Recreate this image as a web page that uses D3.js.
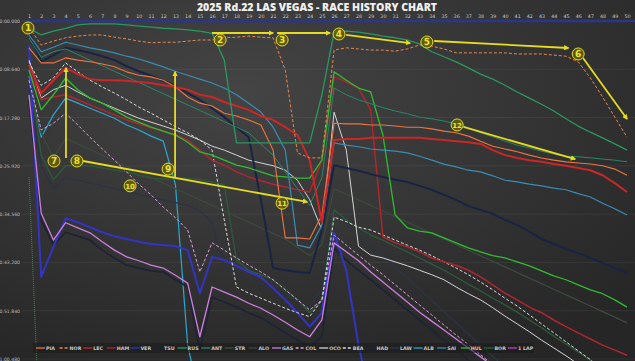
<!DOCTYPE html>
<html><head><meta charset="utf-8">
<script src="https://cdn.jsdelivr.net/npm/d3@7"></script>
<style>html,body{margin:0;padding:0;background:#2e2e2e;}svg{display:block;}</style>
</head><body>
<svg id="c" width="635" height="361"></svg>
<script>
const title = "2025 Rd.22 LAS VEGAS - RACE HISTORY CHART";
const laps = d3.range(1, 51);
const yTicks = [0, 8.64, 17.28, 25.92, 34.56, 43.2, 51.84, 60.48];
const yTickLabels = ["0:00.000","0:08.640","0:17.280","0:25.920","0:34.560","0:43.200","0:51.840","1:00.480"];
const drivers = ["PIA","NOR","LEC","HAM","VER","TSU","RUS","ANT","STR","ALO","GAS","COL","OCO","BEA","HAD","LAW","ALB","SAI","HUL","BOR","1 LAP"];

// gap to reference (seconds) per lap
const PIA = [4.8,7.5,7.5,6.6,7.0,7.3,7.7,8.2,9.1,9.7,10.0,10.6,11.8,13.6,14.7,15.2,16.5,17.0,17.7,18.6,23.1,38.8,38.8,39.0,34.7,18.3,18.4,18.4,18.6,18.6,18.8,19.0,19.0,19.3,19.7,20.0,20.6,21.5,22.4,22.9,23.4,24.0,24.5,24.9,25.2,25.4,25.6,25.9,26.5,27.6];
const NOR = [1.1,4.3,3.6,3.0,2.7,2.5,2.5,2.9,3.2,3.6,3.9,3.8,3.8,3.6,3.4,3.4,3.0,2.9,2.7,2.9,3.0,8.8,23.6,24.5,24.5,5.2,4.8,5.0,5.2,5.2,5.4,5.0,4.3,4.5,5.0,5.7,5.7,5.7,5.7,5.7,5.9,5.9,5.9,6.1,6.3,7.3,10.2,13.6,17.2,20.8];
const LEC = [7.9,12.9,10.6,8.4,9.5,10.4,10.6,10.6,10.7,10.9,11.1,11.5,11.8,12.3,13.2,13.6,14.5,15.2,15.9,17.0,17.7,19.0,20.4,24.9,36.0,21.3,21.1,21.1,20.9,20.9,20.9,20.9,20.9,21.1,21.3,21.5,21.7,22.0,23.1,24.0,24.5,24.9,25.2,25.6,25.9,26.3,26.7,27.6,29.0,30.6];
const HAM = [8.8,14.1,13.6,13.2,14.1,15.0,15.9,16.8,17.7,18.4,19.1,19.7,20.4,21.3,23.1,24.9,25.8,27.0,27.9,28.6,29.2,29.7,30.2,30.6,24.9,10.0,10.9,12.0,15.9,38.6,39.7,40.4,41.3,42.4,43.1,43.7,44.6,45.8,47.2,48.7,49.9,51.2,52.2,53.5,54.7,55.8,56.9,58.0,58.9,59.8];
const VER = [4.3,45.8,40.4,35.3,36.0,36.9,37.8,38.5,39.0,39.5,39.9,40.1,40.3,41.0,48.7,42.2,42.8,43.8,44.9,45.8,47.8,49.9,52.2,54.7,52.2,37.9,44.6,58.0,67.8,null,null,null,null,null,null,null,null,null,null,null,null,null,null,null,null,null,null,null,null,null];
const TSU = [2.0,7.3,6.1,4.8,5.2,5.7,6.3,7.0,8.1,9.0,9.8,10.7,11.6,12.9,14.1,15.6,17.2,19.0,20.8,32.0,44.2,44.6,44.9,45.1,37.4,25.8,26.3,26.8,27.4,27.9,28.4,28.8,29.5,30.2,31.1,32.0,33.1,33.8,34.5,35.6,36.5,37.7,39.0,39.9,40.8,41.5,42.4,43.3,44.2,45.1];
const RUS = [1.3,2.5,1.8,1.3,0.7,0.5,0.5,0.5,0.7,0.9,1.1,1.3,1.4,1.6,1.8,2.2,7.0,21.8,21.8,21.8,21.8,21.8,21.8,21.8,13.2,2.0,1.8,2.0,2.3,2.7,3.0,3.4,4.1,5.5,6.4,7.3,8.4,9.5,10.4,11.5,12.7,13.8,14.9,16.1,17.5,18.8,19.9,20.9,22.0,23.1];
const ANT = [3.0,6.5,5.5,5.0,6.0,7.0,8.0,9.0,10.0,11.0,12.0,13.0,14.0,15.0,16.0,17.0,18.0,19.0,20.0,22.0,24.0,27.0,30.0,33.0,28.0,12.0,13.2,14.1,14.8,15.5,16.1,16.6,17.2,17.5,17.9,18.4,19.1,20.0,20.7,21.5,22.2,22.7,23.3,23.8,24.2,24.3,24.5,24.7,24.9,25.2];
const STR = [8.8,24.0,28.4,25.9,25.8,25.9,26.3,26.7,27.0,27.6,28.1,28.3,28.3,28.1,28.4,28.8,29.3,42.8,44.6,45.4,46.3,48.1,49.9,52.2,49.9,33.8,35.6,37.0,38.3,39.2,40.3,41.3,42.4,43.5,44.6,45.8,47.1,48.3,49.6,50.8,52.1,53.5,54.9,56.4,57.8,59.2,60.7,62.4,null,null];
const ALO = [11.0,20.0,24.5,21.0,22.0,23.0,24.0,25.0,26.0,27.0,28.0,29.0,30.0,31.0,32.0,33.0,34.0,35.0,36.0,37.0,38.0,39.0,40.5,42.0,40.0,30.0,31.0,32.0,33.0,34.0,35.0,36.0,37.0,38.0,39.0,40.0,41.0,42.0,43.0,44.0,45.0,46.0,47.0,48.0,49.0,50.0,51.0,52.0,53.0,54.0];
const GAS = [13.2,34.4,39.2,36.1,37.0,37.9,39.5,41.0,42.2,42.9,43.7,44.2,45.5,46.9,56.5,47.6,48.5,49.4,50.5,51.4,52.6,53.9,55.3,56.5,53.5,39.7,41.3,42.9,44.9,46.7,48.5,50.3,52.1,53.7,55.3,56.9,58.5,60.1,61.7,null,null,null,null,null,null,null,null,null,null,null];
const COL = [10.6,19.5,18.3,16.5,18.6,20.8,22.9,24.9,27.0,29.2,31.1,33.3,35.2,37.4,44.9,39.7,41.0,42.4,43.7,44.9,46.3,48.1,49.9,51.7,49.9,38.3,40.1,41.9,43.7,45.4,47.2,49.0,50.8,52.6,54.4,56.2,57.9,59.7,61.5,null,null,null,null,null,null,null,null,null,null,null];
const OCO = [7.0,13.8,12.3,11.5,12.7,13.8,14.7,15.6,16.5,17.4,18.1,18.8,19.5,20.4,21.3,22.4,23.1,24.0,24.9,25.4,25.9,26.7,28.5,32.0,37.4,16.3,23.1,40.3,41.9,42.4,43.1,43.8,44.6,45.4,46.3,47.6,48.8,49.9,51.3,52.8,54.2,55.6,57.1,58.5,59.9,61.4,null,null,null,null];
const BEA = [7.3,11.5,10.2,7.5,9.1,10.6,11.8,12.9,14.1,15.4,16.5,17.7,18.9,20.0,21.3,23.1,35.6,47.6,48.7,49.6,50.5,51.4,52.2,52.9,49.9,35.1,35.9,36.9,37.4,38.3,39.2,40.1,41.0,42.0,43.1,44.2,45.4,46.7,48.1,49.6,51.0,52.6,54.2,55.8,57.4,59.0,60.6,62.4,null,null];
const HAD = [14.1,35.6,40.1,37.8,38.5,39.2,41.0,42.4,43.7,44.2,44.7,44.9,46.3,47.6,58.9,49.4,50.3,51.2,52.2,53.1,54.4,55.8,57.1,58.3,56.5,40.6,42.8,44.6,46.3,48.1,49.9,51.7,53.5,55.3,57.1,58.9,60.7,62.4,null,null,null,null,null,null,null,null,null,null,null,null];
const LAW = [12.0,26.0,30.0,28.0,28.5,29.0,29.5,30.0,30.5,31.0,31.5,32.0,32.5,33.0,34.0,36.0,44.0,45.0,46.0,47.0,48.0,49.0,50.0,51.0,48.0,34.0,36.0,38.0,40.0,42.0,44.0,46.0,48.0,50.0,52.0,54.0,56.0,58.0,60.0,62.0,null,null,null,null,null,null,null,null,null,null];
const ALB = [9.8,20.8,16.8,13.8,14.7,15.6,16.5,17.4,18.6,19.5,20.6,21.5,29.3,58.0,67.8,null,null,null,null,null,null,null,null,null,null,null,null,null,null,null,null,null,null,null,null,null,null,null,null,null,null,null,null,null,null,null,null,null,null,null];
const SAI = [2.5,5.5,4.7,3.8,4.3,4.8,5.2,5.7,6.3,6.8,7.5,8.2,9.0,9.7,10.4,11.1,12.0,13.2,14.7,16.3,19.0,23.1,40.1,40.6,36.5,21.8,22.2,22.5,22.9,23.1,23.3,23.6,24.2,24.9,25.6,26.1,26.7,27.0,27.7,28.5,28.8,29.2,29.5,29.9,30.2,30.9,31.5,32.6,33.6,34.7];
const HUL = [8.8,15.9,13.2,10.2,12.3,13.8,14.7,15.9,17.2,18.1,19.0,19.7,20.4,21.7,23.4,24.0,24.9,25.8,26.3,27.0,27.7,27.9,28.1,28.1,24.9,9.1,10.6,12.0,12.7,20.4,34.7,37.0,37.6,37.9,38.8,39.7,40.6,41.3,42.0,42.4,43.1,43.8,44.7,45.6,46.3,47.2,48.1,48.8,49.9,51.2];
const BOR = [27.9,80.0,null,null,null,null,null,null,null,null,null,null,null,null,null,null,null,null,null,null,null,null,null,null,null,null,null,null,null,null,null,null,null,null,null,null,null,null,null,null,null,null,null,null,null,null,null,null,null,null];

const series = {PIA,NOR,LEC,HAM,VER,TSU,RUS,ANT,STR,ALO,GAS,COL,OCO,BEA,HAD,LAW,ALB,SAI,HUL,BOR};

// annotations: [label, lap, gap]
const notes = [["1",0.92,1.25],["2",16.66,3.4],["3",21.74,3.4],["4",26.4,2.33],["5",33.6,3.76],["6",46.0,5.9],["7",3.05,25.05],["8",4.93,25.05],["9",12.4,26.5],["10",9.28,29.5],["11",21.74,32.6],["12",36.08,18.6]];
const arrows = [[16.0,2.15,21.0,2.15],[21.33,2.15,25.67,2.15],[26.98,2.5,32.23,3.94],[34.2,3.58,45.2,4.83],[46.4,6.62,50.0,17.53],[4.03,24.5,4.03,8.4],[5.43,25.05,23.79,32.38],[12.97,28.1,12.97,9.1],[36.6,18.96,45.75,24.7]];

// styles
const style = {
  PIA:{c:"#ee7440",w:1.1,d:null}, NOR:{c:"#e8884c",w:1,d:"3,2"},
  LEC:{c:"#cc2626",w:2,d:null}, HAM:{c:"#b02630",w:1.5,d:null},
  VER:{c:"#3434c4",w:2,d:null}, TSU:{c:"#1a2442",w:2,d:null},
  RUS:{c:"#2a9860",w:1.3,d:null}, ANT:{c:"#2a866a",w:1,d:null},
  STR:{c:"#2e5a3c",w:1.3,d:null}, ALO:{c:"#3c4a3c",w:1.3,d:null},
  GAS:{c:"#cc80dc",w:1.3,d:null}, COL:{c:"#dca0dc",w:1,d:"3,2"},
  OCO:{c:"#d4d4d4",w:1,d:null}, BEA:{c:"#dcdcdc",w:1,d:"3,2"},
  HAD:{c:"#1e2436",w:1.8,d:null}, LAW:{c:"#2c3444",w:1.3,d:null},
  ALB:{c:"#28a8d0",w:1.2,d:null}, SAI:{c:"#3a8cb4",w:1.2,d:null},
  HUL:{c:"#30bc30",w:1.3,d:null}, BOR:{c:"#2a9a3a",w:1,d:"1,1"},
  "1 LAP":{c:"#c040c0",w:1.3,d:null}
};

const W=635,H=361;
const svg=d3.select("#c");
const defs=svg.append("defs");
const rg=defs.append("radialGradient").attr("id","bg").attr("cx","38%").attr("cy","25%").attr("r","85%");
rg.append("stop").attr("offset","0%").attr("stop-color","#444");
rg.append("stop").attr("offset","100%").attr("stop-color","#262626");
svg.append("rect").attr("width",W).attr("height",H).attr("fill","url(#bg)");
defs.append("clipPath").attr("id","clip").append("rect").attr("x",0).attr("y",21).attr("width",W).attr("height",H-21);
const mk=defs.append("marker").attr("id","arr").attr("viewBox","0 0 10 10").attr("refX",8).attr("refY",5)
  .attr("markerWidth",3).attr("markerHeight",3).attr("orient","auto");
mk.append("path").attr("d","M0,0L10,5L0,10z").attr("fill","#e6dc1e");

const x=d3.scaleLinear().domain([1,50]).range([29,627]);
const y=d3.scaleLinear().domain([0,60.48]).range([21,359]);

svg.append("g").selectAll("line").data(yTicks).join("line")
  .attr("x1",22).attr("x2",W).attr("y1",d=>y(d)).attr("y2",d=>y(d))
  .attr("stroke","rgba(255,255,255,0.06)");

const yAxis=d3.axisLeft(y).tickValues(yTicks).tickFormat((d,i)=>yTickLabels[i]).tickSize(0).tickPadding(0);
svg.append("g").attr("transform","translate(20,0)").call(yAxis)
  .call(g=>g.select(".domain").remove())
  .selectAll("text").attr("fill","#bdbdbd").style("font-size","4.6px").style("font-family","DejaVu Sans");

const xAxis=d3.axisTop(x).tickValues(laps).tickFormat(d3.format("d")).tickSize(0).tickPadding(0);
svg.append("g").attr("transform","translate(0,18)").call(xAxis)
  .call(g=>g.select(".domain").remove())
  .selectAll("text").attr("fill","#c8c8c8").style("font-size","4.8px").style("font-family","DejaVu Sans");

svg.append("text").attr("x",317).attr("y",11).attr("text-anchor","middle")
  .attr("fill","#f0f0f0").style("font-family","Open Sans").style("font-weight","800").style("font-size","10.5px").text(title);

const line=d3.line().defined(d=>d!=null).x((d,i)=>x(laps[i])).y(d=>y(d));
const order=["BOR","ALB","HAD","LAW","STR","ALO","VER","GAS","COL","BEA","OCO","HAM","TSU","SAI","HUL","ANT","PIA","LEC","RUS","NOR"];
const gl=svg.append("g").attr("clip-path","url(#clip)");
gl.selectAll("path").data(order).join("path")
  .attr("d",k=>line(series[k])).attr("fill","none")
  .attr("stroke",k=>style[k].c).attr("stroke-width",k=>style[k].w)
  .attr("stroke-dasharray",k=>style[k].d).attr("stroke-linejoin","round");

svg.append("line").attr("x1",25).attr("x2",W).attr("y1",y(0)).attr("y2",y(0))
  .attr("stroke","#28378a").attr("stroke-width",2.5);

// annotations
const ga=svg.append("g");
ga.selectAll("line").data(arrows).join("line")
  .attr("x1",d=>x(d[0])).attr("y1",d=>y(d[1])).attr("x2",d=>x(d[2])).attr("y2",d=>y(d[3]))
  .attr("stroke","#e6dc1e").attr("stroke-width",1.8).attr("marker-end","url(#arr)");
const gn=ga.selectAll("g.n").data(notes).join("g").attr("class","n")
  .attr("transform",d=>`translate(${x(d[1])},${y(d[2])})`);
gn.append("circle").attr("r",6).attr("fill","rgba(110,100,10,0.75)").attr("stroke","#e6dc1e").attr("stroke-width",1);
gn.append("text").attr("text-anchor","middle").attr("dy","3.2").attr("fill","#f0e628")
  .style("font-family","DejaVu Sans").style("font-weight","bold").style("font-size",d=>d[0].length>1?"7px":"9px").text(d=>d[0]);

// legend
const lg=svg.append("g");
lg.append("rect").attr("x",33).attr("y",343).attr("width",501).attr("height",10).attr("fill","rgba(25,25,25,0.55)");
const li=lg.selectAll("g").data(drivers).join("g").attr("transform",(d,i)=>`translate(${36+i*23.6},348)`);
li.append("line").attr("x1",0).attr("x2",9).attr("stroke",d=>style[d].c).attr("stroke-width",1.3).attr("stroke-dasharray",d=>style[d].d);
li.append("text").attr("x",10).attr("dy","1.7").attr("fill","#c8c8c8").style("font-family","DejaVu Sans").style("font-weight","bold").style("font-size","4.8px").text(d=>d);
</script>
</body></html>
